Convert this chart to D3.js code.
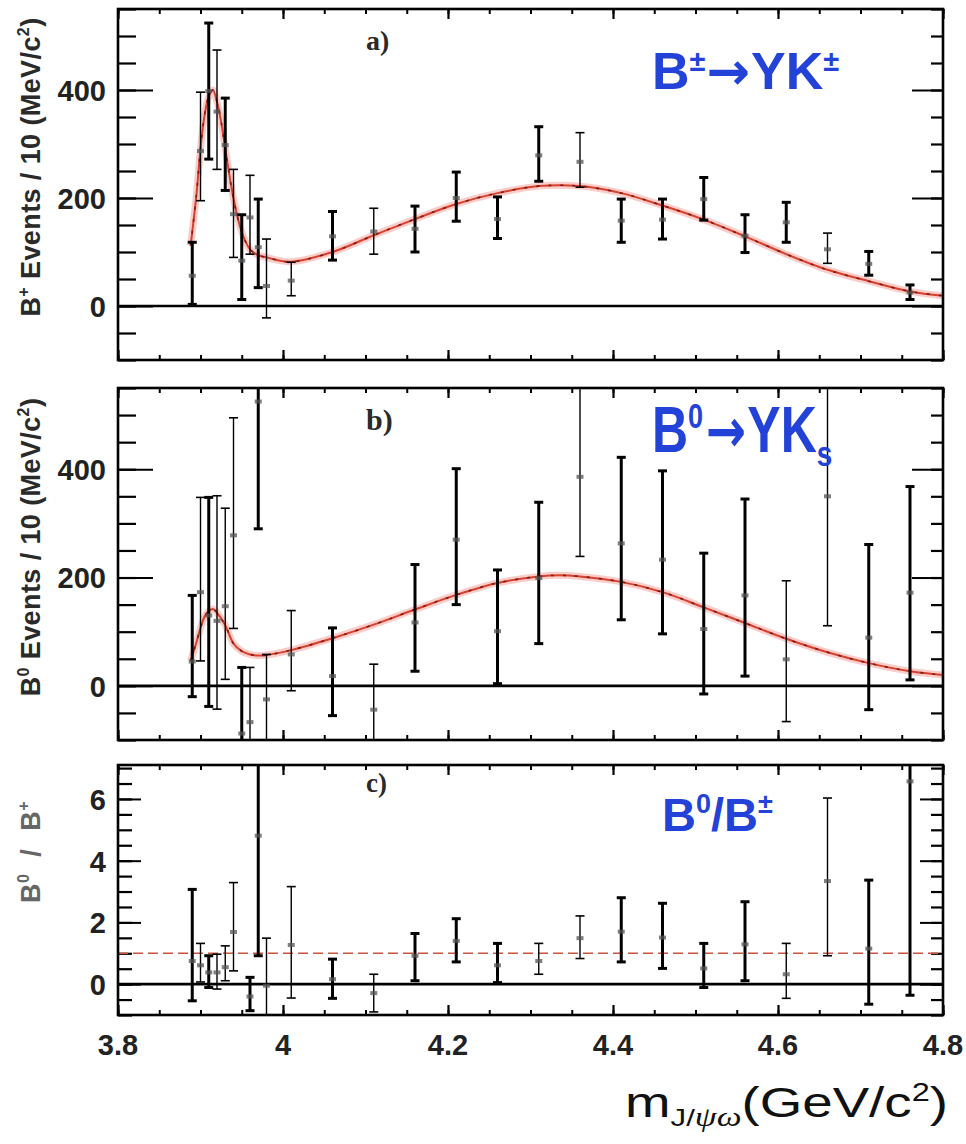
<!DOCTYPE html>
<html>
<head>
<meta charset="utf-8">
<script src="https://cdn.jsdelivr.net/npm/d3@7"></script>
<style>
  body { margin: 0; background: #fff; }
</style>
</head>
<body>
<script>
// page size
var w = 966;
var h = 1144;

// ---- data ----
// bin centres (GeV/c^2)
var massAB = [3.89, 3.90, 3.91, 3.92, 3.93, 3.94, 3.95, 3.96, 3.97, 3.98, 4.01, 4.06, 4.11, 4.16,
              4.21, 4.26, 4.31, 4.36, 4.41, 4.46, 4.51, 4.56, 4.61, 4.66, 4.71, 4.76];
var massC  = [3.89, 3.90, 3.91, 3.92, 3.93, 3.94, 3.96, 3.97, 3.98, 4.01, 4.06, 4.11, 4.16,
              4.21, 4.26, 4.31, 4.36, 4.41, 4.46, 4.51, 4.56, 4.61, 4.66, 4.71, 4.76];

// a) B+ events / 10 MeV
var valA = [56, 287, 398, 360, 298, 170, 84, 164, 109, 37, 47, 129, 138, 143, 200, 161, 279, 267, 158, 160, 198, 130, 155, 105, 78, 25];
var loA  = [3, 195, 272, 253, 214, 90, 12, 96, 34, -22, 19, 85, 96, 100, 157, 125, 231, 220, 118, 124, 159, 99, 118, 79, 57, 12];
var hiA  = [118, 396, 524, 474, 385, 253, 169, 242, 198, 124, 81, 175, 181, 185, 248, 202, 332, 321, 198, 198, 238, 169, 192, 135, 101, 39];

// b) B0 events / 10 MeV
var valB = [45, 173, 130, 120, 147, 278, -88, -67, 525, -25, 58, 18, -44, 117, 270, 101, 199, 386, 263, 233, 105, 167, 49, 350, 89, 172];
var loB  = [-20, 46, -38, -43, 12, 106, -210, -168, 290, -110, -9, -55, -128, 27, 150, 4, 78, 239, 122, 96, -15, 18, -66, 111, -44, 11];
var hiB  = [167, 348, 348, 351, 328, 495, 34, 34, 760, 58, 139, 107, 40, 224, 401, 214, 339, 560, 422, 397, 245, 345, 194, 590, 261, 368];

// c) ratio B0 / B+
var valC = [0.75, 0.61, 0.38, 0.38, 0.55, 1.69, -0.4, 4.81, -0.05, 1.27, 0.16, -0.29, 0.92, 1.4, 0.61, 0.75, 1.49, 1.7, 1.51, 0.51, 1.29, 0.32, 3.34, 1.15, 6.57];
var loC  = [-0.54, 0.07, -0.11, -0.16, 0.11, 0.43, -0.86, 0.92, -1.2, -0.45, -0.46, -0.9, 0.11, 0.72, 0.05, 0.32, 0.83, 0.72, 0.51, -0.11, 0.11, -0.46, 0.92, -0.65, -0.36];
var hiC  = [3.07, 1.32, 0.92, 0.97, 1.24, 3.29, 0.22, 8.7, 1.49, 3.16, 0.81, 0.32, 1.64, 2.12, 1.32, 1.32, 2.21, 2.8, 2.62, 1.32, 2.67, 1.32, 6.03, 3.37, 12.8];
var ratioRef = 1;

// fit curves (read at sample masses)
var fitMassA = [3.888, 3.895, 3.90, 3.905, 3.91, 3.915, 3.92, 3.925, 3.93, 3.94, 3.95, 3.96, 3.97, 3.98, 3.99, 4.01,
                4.06, 4.11, 4.16, 4.21, 4.26, 4.31, 4.36, 4.41, 4.46, 4.51, 4.56, 4.61, 4.66, 4.71, 4.76, 4.80];
var fitA     = [112, 205, 292, 354, 388, 400, 378, 341, 292, 199, 137, 105, 94, 90, 86, 82,
                100, 131, 161, 189, 209, 222, 222, 209, 186, 160, 129, 96, 67, 46, 27, 19];
var fitMassB = [3.888, 3.895, 3.90, 3.905, 3.91, 3.915, 3.92, 3.93, 3.94, 3.95, 3.96, 3.97, 3.98, 4.01,
                4.06, 4.11, 4.16, 4.21, 4.26, 4.31, 4.335, 4.36, 4.41, 4.46, 4.51, 4.56, 4.61, 4.66, 4.71, 4.76, 4.80];
var fitB     = [46, 80, 107, 128, 138, 142, 135, 112, 78, 64, 58, 56, 57, 66,
                88, 113, 141, 168, 190, 202, 204, 202, 192, 173, 145, 116, 87, 62, 42, 27, 20];

// tick labels
var xTicks = [3.8, 4, 4.2, 4.4, 4.6, 4.8];
var xTickLabels = ["3.8", "4", "4.2", "4.4", "4.6", "4.8"];
var yTicksAB = [0, 200, 400];
var yTicksC = [0, 2, 4, 6];

// bars drawn with a thin pen (the rest are heavy)
var thinA = [3.90, 3.92, 3.94, 3.96, 3.98, 4.01, 4.11, 4.36, 4.66];
var thinB = [3.90, 3.92, 3.93, 3.94, 3.96, 3.98, 4.01, 4.11, 4.36, 4.61, 4.66];
var thinC = [3.90, 3.92, 3.93, 3.94, 3.98, 4.01, 4.11, 4.31, 4.36, 4.61, 4.66];

var blue = "#2342d8";
var sans = "'Liberation Sans', Arial, Helvetica, sans-serif";

var svg = d3.select("body")
            .append("svg")
            .attr("width", w)
            .attr("height", h)
            .style("background", "#fff");

var x = d3.scaleLinear().domain([3.8, 4.8]).range([118, 943]);

var panels = [
  {id: "a", top: 9, bottom: 360, dom: [-100, 550], minorN: 13, mass: massAB, val: valA, lo: loA, hi: hiA,
   thin: thinA, fitM: fitMassA, fit: fitA, major: yTicksAB, yMaj: 35, yMin: 18, yMajR: 31, yMinR: 12},
  {id: "b", top: 388, bottom: 740, dom: [-100, 550], minorN: 13, mass: massAB, val: valB, lo: loB, hi: hiB,
   thin: thinB, fitM: fitMassB, fit: fitB, major: yTicksAB, yMaj: 35, yMin: 18, yMajR: 31, yMinR: 12},
  {id: "c", top: 765, bottom: 1015, dom: [-1, 7.1], minorN: 16, mass: massC, val: valC, lo: loC, hi: hiC,
   thin: thinC, major: yTicksC, yMaj: 23, yMin: 14, yMajR: 23, yMinR: 12}
];

panels.forEach(function(p) {
  var y = d3.scaleLinear().domain(p.dom).range([p.bottom, p.top]);
  var g = svg.append("g");

  svg.append("clipPath").attr("id", "clip" + p.id)
     .append("rect")
     .attr("x", x.range()[0]).attr("y", p.top)
     .attr("width", x.range()[1] - x.range()[0]).attr("height", p.bottom - p.top);

  // ticks: y minor + major, both sides; x minor + major, top and bottom
  var minor = y.ticks(p.minorN);
  var xMinor = x.ticks(20);
  function tickLines(axis, tx, ty, sw) {
    var a = g.append("g").attr("transform", "translate(" + tx + "," + ty + ")").call(axis);
    a.select(".domain").remove();
    a.selectAll("text").remove();
    a.selectAll("line").attr("stroke", "#000").attr("stroke-width", sw);
  }
  tickLines(d3.axisRight(y).tickValues(minor).tickSize(p.yMin), x.range()[0], 0, 2.2);
  tickLines(d3.axisRight(y).tickValues(p.major).tickSize(p.yMaj), x.range()[0], 0, 2);
  tickLines(d3.axisLeft(y).tickValues(minor).tickSize(p.yMinR), x.range()[1], 0, 2.2);
  tickLines(d3.axisLeft(y).tickValues(p.major).tickSize(p.yMajR), x.range()[1], 0, 2);
  tickLines(d3.axisBottom(x).tickValues(xMinor).tickSize(5), 0, p.top, 2);
  tickLines(d3.axisBottom(x).tickValues(xTicks).tickSize(10), 0, p.top, 2.2);
  tickLines(d3.axisTop(x).tickValues(xMinor).tickSize(5), 0, p.bottom, 2);
  tickLines(d3.axisTop(x).tickValues(xTicks).tickSize(10), 0, p.bottom, 2.2);

  // y tick labels
  var yl = g.append("g")
            .attr("transform", "translate(" + x.range()[0] + ",0)")
            .call(d3.axisLeft(y).tickValues(p.major).tickSize(0).tickPadding(12).tickFormat(d3.format("d")));
  yl.select(".domain").remove();
  yl.selectAll("text")
    .attr("font-family", sans)
    .attr("font-weight", "bold")
    .attr("font-size", "29px")
    .attr("fill", "#222")
    .attr("dy", "0.36em");

  var inner = g.append("g").attr("clip-path", "url(#clip" + p.id + ")");

  // zero line
  inner.append("line")
       .attr("x1", x.range()[0]).attr("x2", x.range()[1])
       .attr("y1", y(0)).attr("y2", y(0))
       .attr("stroke", "#000").attr("stroke-width", 2.6);

  // fit curve / reference line
  if (p.fit) {
    var line = d3.line()
                 .x(function(d, i) { return x(p.fitM[i]); })
                 .y(function(d) { return y(d); })
                 .curve(d3.curveCatmullRom.alpha(0.5));
    inner.append("path").attr("d", line(p.fit))
         .attr("fill", "none").attr("stroke", "rgba(235,90,80,0.3)").attr("stroke-width", 7);
    inner.append("path").attr("d", line(p.fit))
         .attr("fill", "none").attr("stroke", "#d8402f").attr("stroke-width", 2);
    inner.append("path").attr("d", line(p.fit))
         .attr("fill", "none").attr("stroke", "#7a1d12").attr("stroke-width", 1.6)
         .attr("stroke-dasharray", "3,9");
  } else {
    inner.append("line")
         .attr("x1", x.range()[0]).attr("x2", x.range()[1])
         .attr("y1", y(ratioRef)).attr("y2", y(ratioRef))
         .attr("stroke", "#c8553f").attr("stroke-width", 1.6)
         .attr("stroke-dasharray", "10,5");
  }

  // error bars
  var pts = p.mass.map(function(m, i) {
    return {m: m, v: p.val[i], lo: p.lo[i], hi: p.hi[i], thin: p.thin.indexOf(m) >= 0};
  });
  var bars = inner.selectAll("g.bar").data(pts).enter().append("g").attr("class", "bar");
  bars.append("line")
      .attr("x1", function(d) { return x(d.m); }).attr("x2", function(d) { return x(d.m); })
      .attr("y1", function(d) { return y(d.lo); }).attr("y2", function(d) { return y(d.hi); })
      .attr("stroke", "#000")
      .attr("stroke-width", function(d) { return d.thin ? 1.4 : 3; });
  ["lo", "hi"].forEach(function(k) {
    bars.append("line")
        .attr("x1", function(d) { return x(d.m) - 4.5; }).attr("x2", function(d) { return x(d.m) + 4.5; })
        .attr("y1", function(d) { return y(d[k]); }).attr("y2", function(d) { return y(d[k]); })
        .attr("stroke", "#000")
        .attr("stroke-width", function(d) { return d.thin ? 1.6 : 3; });
  });
  bars.append("rect")
      .attr("x", function(d) { return x(d.m) - 3.5; })
      .attr("y", function(d) { return y(d.v) - 2; })
      .attr("width", 7).attr("height", 4)
      .attr("fill", "#555").attr("opacity", 0.75);

  // frame
  g.append("rect")
   .attr("x", x.range()[0]).attr("y", p.top)
   .attr("width", x.range()[1] - x.range()[0]).attr("height", p.bottom - p.top)
   .attr("fill", "none").attr("stroke", "#000").attr("stroke-width", 2.6);
});

// x tick labels (bottom panel only)
svg.selectAll("text.xl")
   .data(xTicks)
   .enter()
   .append("text")
   .attr("class", "xl")
   .attr("x", function(d) { return x(d); })
   .attr("y", 1055)
   .attr("text-anchor", "middle")
   .attr("font-family", sans)
   .attr("font-weight", "bold")
   .attr("font-size", "29px")
   .attr("fill", "#222")
   .text(function(d, i) { return xTickLabels[i]; });

// panel letters
[["a)", 50, 28], ["b)", 430, 30], ["c)", 792, 27]].forEach(function(t) {
  svg.append("text")
     .attr("x", 366).attr("y", t[1])
     .attr("font-family", "'Liberation Serif', 'Times New Roman', serif")
     .attr("font-weight", "bold")
     .attr("font-size", t[2] + "px")
     .attr("fill", "#2a2a2a")
     .text(t[0]);
});

// y titles
function yTitle(cy, parts, col) {
  var t = svg.append("text")
     .attr("transform", "translate(40," + cy + ") rotate(-90)")
     .attr("text-anchor", "middle")
     .attr("font-family", sans)
     .attr("font-weight", "bold")
     .attr("font-size", "27px")
     .attr("letter-spacing", "0.4px")
     .attr("fill", col);
  parts.forEach(function(q) {
    var s = t.append("tspan").text(q.t);
    if (q.sup) s.attr("font-size", "16px");
    if (q.dy) s.attr("dy", q.dy);
    if (q.dx) s.attr("dx", q.dx);
  });
}
yTitle(167, [{t: "B"}, {t: "+", sup: 1, dy: -11}, {t: " Events / 10 (MeV/c", dy: 11}, {t: "2", sup: 1, dy: -11}, {t: ")", dy: 11}], "#2a2a2a");
yTitle(547, [{t: "B"}, {t: "0", sup: 1, dy: -11}, {t: " Events / 10 (MeV/c", dy: 11}, {t: "2", sup: 1, dy: -11}, {t: ")", dy: 11}], "#2a2a2a");
yTitle(852, [{t: "B"}, {t: "0", sup: 1, dy: -11}, {t: "/", dy: 11, dx: 17}, {t: "B", dx: 18}, {t: "+", sup: 1, dy: -11}], "#666");

// blue decay labels
function decay(tr, parts, size) {
  var t = svg.append("text")
     .attr("transform", tr)
     .attr("font-family", sans)
     .attr("font-weight", "bold")
     .attr("font-size", size + "px")
     .attr("fill", blue);
  parts.forEach(function(q) {
    var s = t.append("tspan").text(q.t);
    if (q.fs) s.attr("font-size", q.fs + "px");
    if (q.dy) s.attr("dy", q.dy);
    if (q.dx) s.attr("dx", q.dx);
    if (q.ff) s.attr("font-family", q.ff);
  });
}
decay("translate(652,89)", [{t: "B"}, {t: "±", fs: 29, dy: -18}, {t: "→", fs: 52, dy: 18, dx: 1, ff: "'DejaVu Sans'"},
                {t: "Y", dx: 1}, {t: "K"}, {t: "±", fs: 29, dy: -18}], 52);
decay("translate(652,452) scale(1,1.28)", [{t: "B"}, {t: "0", fs: 27, dy: -19}, {t: "→", fs: 48, dy: 19, dx: 3, ff: "'DejaVu Sans'"},
                 {t: "Y", dx: 1}, {t: "K"}, {t: "s", fs: 28, dy: 11}], 50);
decay("translate(662,831)", [{t: "B"}, {t: "0", fs: 27, dy: -18}, {t: "/", dy: 18}, {t: "B"}, {t: "±", fs: 27, dy: -18}], 47);

// x title
var xt = svg.append("text")
            .attr("x", 625).attr("y", 1117)
            .attr("font-family", sans)
            .attr("font-size", "42px")
            .attr("fill", "#111")
            .attr("textLength", 323)
            .attr("lengthAdjust", "spacingAndGlyphs");
xt.append("tspan").text("m");
xt.append("tspan").text("J/").attr("font-size", "24px").attr("dy", 9);
xt.append("tspan").text("ψω").attr("font-size", "27px").attr("font-style", "italic").attr("font-family", "'Liberation Serif', serif");
xt.append("tspan").text("(GeV/c").attr("dy", -9);
xt.append("tspan").text("2").attr("font-size", "25px").attr("dy", -16);
xt.append("tspan").text(")").attr("dy", 16);
</script>
</body>
</html>
